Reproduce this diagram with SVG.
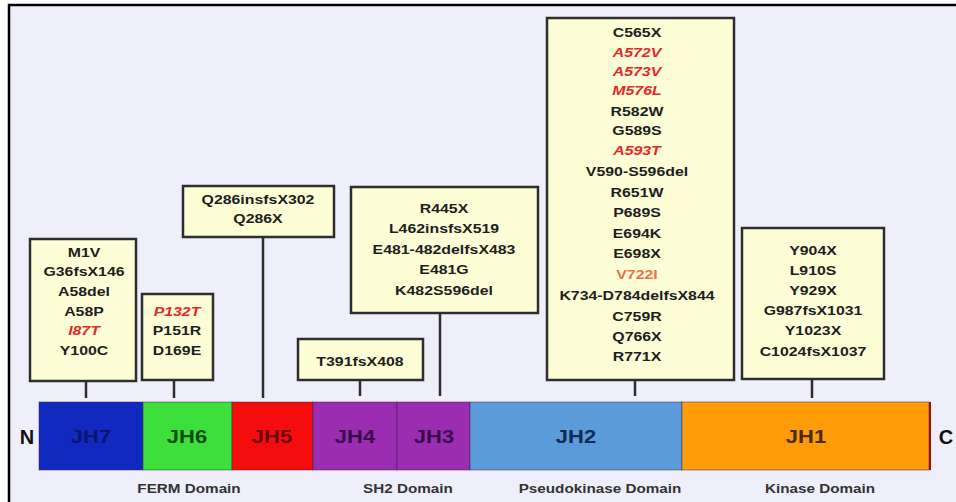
<svg xmlns="http://www.w3.org/2000/svg" width="956" height="502" viewBox="0 0 956 502">
<style>
.bg{fill:#efeefb}
.box{fill:#fdfdd6;stroke:#2e2e2e;stroke-width:2.5}
.t{font-family:"Liberation Sans",Arial,sans-serif;font-weight:bold;font-size:13px;fill:#1e1e1e;text-anchor:middle}
.r{fill:#e8262a;font-style:italic}
.o{fill:#f0704a}
.seg{stroke:#3a2a4a;stroke-width:1;stroke-opacity:0.5}
.lbl{font-family:"Liberation Sans",Arial,sans-serif;font-weight:bold;font-size:18px;text-anchor:middle}
.dom{font-family:"Liberation Sans",Arial,sans-serif;font-weight:bold;font-size:12.5px;fill:#333;text-anchor:middle}
.end{font-family:"Liberation Sans",Arial,sans-serif;font-weight:bold;font-size:20px;fill:#111;text-anchor:middle}
.conn line{stroke:#2e2e2e;stroke-width:2.5}
</style>
<rect x="0" y="0" width="956" height="502" fill="#ffffff"/>
<rect class="bg" x="9" y="5" width="947" height="497"/>
<path d="M9 502 V5 H956" fill="none" stroke="#000" stroke-width="2.5"/>

<g id="connectors" class="conn">
<line x1="86" y1="381" x2="86" y2="398"/>
<line x1="174" y1="380" x2="174" y2="398"/>
<line x1="263" y1="237" x2="263" y2="398"/>
<line x1="360" y1="380" x2="360" y2="396"/>
<line x1="440" y1="313" x2="440" y2="396"/>
<line x1="635" y1="380" x2="635" y2="396"/>
<line x1="812" y1="379" x2="812" y2="398"/>
</g>

<g id="bar">
<rect id="JH7" class="seg" x="39" y="402" width="104" height="68" fill="#1229bf"/>
<rect id="JH6" class="seg" x="143" y="402" width="89" height="68" fill="#3ddf3a"/>
<rect id="JH5" class="seg" x="232" y="402" width="81" height="68" fill="#f50d0d"/>
<rect id="JH4" class="seg" x="313" y="402" width="84" height="68" fill="#9a2db2"/>
<rect id="JH3" class="seg" x="397" y="402" width="73" height="68" fill="#9a2db2"/>
<rect id="JH2" class="seg" x="470" y="402" width="212" height="68" fill="#5b9bd9"/>
<rect id="JH1" class="seg" x="682" y="402" width="247" height="68" fill="#ff9c08"/>
<rect x="929" y="402" width="2" height="68" fill="#9a1010"/>
<g transform="translate(0,443)">
<text class="lbl" transform="translate(91,0) scale(1.22,1)" fill="#0b1470">JH7</text>
<text class="lbl" transform="translate(187,0) scale(1.22,1)" fill="#0d4a10">JH6</text>
<text class="lbl" transform="translate(272,0) scale(1.22,1)" fill="#6a0606">JH5</text>
<text class="lbl" transform="translate(355,0) scale(1.22,1)" fill="#3a0a48">JH4</text>
<text class="lbl" transform="translate(434,0) scale(1.22,1)" fill="#3a0a48">JH3</text>
<text class="lbl" transform="translate(576,0) scale(1.22,1)" fill="#0f2a55">JH2</text>
<text class="lbl" transform="translate(806,0) scale(1.22,1)" fill="#4a2a05">JH1</text>
</g>
<text class="end" x="27" y="444">N</text>
<text class="end" x="946" y="444">C</text>
</g>

<g id="domains">
<text class="dom" transform="translate(189,493) scale(1.22,1)">FERM Domain</text>
<text class="dom" transform="translate(408,493) scale(1.22,1)">SH2 Domain</text>
<text class="dom" transform="translate(600,493) scale(1.22,1)">Pseudokinase Domain</text>
<text class="dom" transform="translate(820,493) scale(1.22,1)">Kinase Domain</text>
</g>

<g id="box-jh7">
<rect class="box" x="30" y="239" width="106" height="142"/>
<g transform="translate(84,0) scale(1.22,1)">
<text class="t" y="257">M1V</text>
<text class="t" y="276">G36fsX146</text>
<text class="t" y="296">A58del</text>
<text class="t" y="316">A58P</text>
<text class="t r" y="335">I87T</text>
<text class="t" y="355">Y100C</text>
</g>
</g>

<g id="box-jh6">
<rect class="box" x="142" y="294" width="71" height="86"/>
<g transform="translate(177,0) scale(1.22,1)">
<text class="t r" y="316">P132T</text>
<text class="t" y="335">P151R</text>
<text class="t" y="355">D169E</text>
</g>
</g>

<g id="box-jh5">
<rect class="box" x="183" y="186" width="151" height="51"/>
<g transform="translate(258,0) scale(1.22,1)">
<text class="t" y="204">Q286insfsX302</text>
<text class="t" y="223">Q286X</text>
</g>
</g>

<g id="box-jh4">
<rect class="box" x="298" y="339" width="125" height="41"/>
<g transform="translate(360,0) scale(1.22,1)">
<text class="t" y="366">T391fsX408</text>
</g>
</g>

<g id="box-jh3">
<rect class="box" x="351" y="187" width="187" height="126"/>
<g transform="translate(444,0) scale(1.22,1)">
<text class="t" y="213">R445X</text>
<text class="t" y="233">L462insfsX519</text>
<text class="t" y="254">E481-482delfsX483</text>
<text class="t" y="274">E481G</text>
<text class="t" y="295">K482S596del</text>
</g>
</g>

<g id="box-jh2">
<rect class="box" x="547" y="18" width="187" height="362"/>
<g transform="translate(637,0) scale(1.22,1)">
<text class="t" y="37">C565X</text>
<text class="t r" y="57">A572V</text>
<text class="t r" y="76">A573V</text>
<text class="t r" y="95">M576L</text>
<text class="t" y="116">R582W</text>
<text class="t" y="135">G589S</text>
<text class="t r" y="155">A593T</text>
<text class="t" y="176">V590-S596del</text>
<text class="t" y="197">R651W</text>
<text class="t" y="217">P689S</text>
<text class="t" y="238">E694K</text>
<text class="t" y="258">E698X</text>
<text class="t o" y="279">V722I</text>
<text class="t" y="300">K734-D784delfsX844</text>
<text class="t" y="321">C759R</text>
<text class="t" y="341">Q766X</text>
<text class="t" y="361">R771X</text>
</g>
</g>

<g id="box-jh1">
<rect class="box" x="742" y="228" width="142" height="151"/>
<g transform="translate(813,0) scale(1.22,1)">
<text class="t" y="255">Y904X</text>
<text class="t" y="275">L910S</text>
<text class="t" y="295">Y929X</text>
<text class="t" y="315">G987fsX1031</text>
<text class="t" y="335">Y1023X</text>
<text class="t" y="356">C1024fsX1037</text>
</g>
</g>
</svg>
